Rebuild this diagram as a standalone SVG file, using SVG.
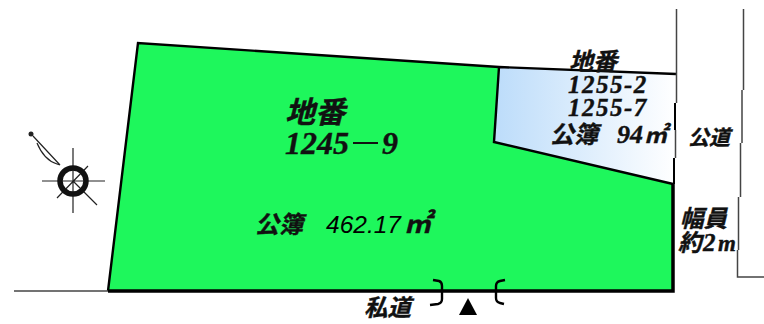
<svg xmlns="http://www.w3.org/2000/svg" width="764" height="324" viewBox="0 0 764 324">
<style>
.t{font-family:"Liberation Serif","Noto Sans CJK JP",serif;font-style:italic;font-weight:700;fill:#111;stroke:#111;stroke-width:.4}
.s{font-family:"Liberation Sans","Noto Sans CJK JP",sans-serif;font-style:italic;fill:#000}
.l{fill:none;stroke:#444;stroke-width:1.5}
.k{fill:none;stroke:#000;stroke-width:2.4}
.c{fill:none;stroke:#222;stroke-width:1.2}
</style>
<defs><linearGradient id="g" x1="0" y1="0" x2="1" y2="0"><stop offset="0" stop-color="#bcdcfa"/><stop offset="1" stop-color="#fff"/></linearGradient></defs>
<rect width="764" height="324" fill="#fff"/>
<g id="lot-main">
<polygon points="138,43 499,67 494,142 673,184 673,291 108,291" fill="#1ef75c"/>
<path class="k" d="M108,291 L138,43 L499,67"/>
<path d="M108,291 H673 V184" fill="none" stroke="#000" stroke-width="3.5"/>
<text class="t" x="285" y="123" font-size="30">地番</text>
<text class="t" x="285" y="154" font-size="32">1245</text>
<path d="M353,143 H378" stroke="#111" stroke-width="2" fill="none"/>
<text class="t" x="382" y="154" font-size="32">9</text>
<text class="t" x="255" y="233" font-size="24">公簿</text>
<text class="s" x="326" y="233" font-size="24.5">462.17</text>
<text class="t" x="404" y="233" font-size="27">㎡</text>
</g>
<g id="lot-adjacent">
<polygon points="499,67 676,74 673,184 494,142" fill="url(#g)"/>
<path class="k" d="M499,67 L676,74 M499,67 L494,142 L673,184"/>
<text class="t" x="569" y="70" font-size="24">地番</text>
<text class="t" x="568" y="93" font-size="25" letter-spacing="1.5">1255-2</text>
<text class="t" x="568" y="116" font-size="25" letter-spacing="1.5">1255-7</text>
<text class="t" x="550" y="143" font-size="24">公簿</text>
<text class="t" x="617" y="143" font-size="26">94</text>
<text class="t" x="644" y="143" font-size="23">㎡</text>
</g>
<g id="connectors">
<path class="l" d="M676.5,9 V103 M675.5,130 V158"/>
<path d="M675,103 V130 M674,158 V184" fill="none" stroke="#000" stroke-width="2"/>
<path class="l" d="M743.5,9 V90 M742,90 V143 M740.5,143 V197 M738.5,197 V250 M737.5,250 V277 H764"/>
<path class="l" d="M14,291 H108"/>
<path class="k" d="M433,280 L439,281 Q442,282 442,286 V299 Q442,303 438,304 L430,305"/>
<path class="k" d="M505,280 L500,281 Q496,282 496,286 V298 Q496,302 500,303 L504,304"/>
</g>
<g id="road-public"><text class="t" x="688" y="145" font-size="21">公道</text></g>
<g id="road-width">
<text class="t" x="680" y="227" font-size="23.5">幅員</text>
<text class="t" x="678" y="251" font-size="23.5">約</text>
<text class="t" x="703" y="251" font-size="25">2</text>
<text class="t" x="718" y="251" font-size="23">m</text>
</g>
<g id="road-private">
<text class="t" x="364" y="316" font-size="23.5">私道</text>
<polygon points="468,298 477,315 459,315" fill="#000"/>
</g>
<g id="compass">
<path class="c" d="M73,148 V213 M42,181 H105 M57,198 L88,166 M73,181 L97,205"/>
<circle cx="73" cy="181" r="13" fill="none" stroke="#111" stroke-width="5.5"/>
<path class="c" d="M33,136 L60,165 M37,143 Q44,160 57,164 L60,165"/>
<circle cx="31" cy="134" r="2.5" fill="#222"/>
</g>
</svg>
